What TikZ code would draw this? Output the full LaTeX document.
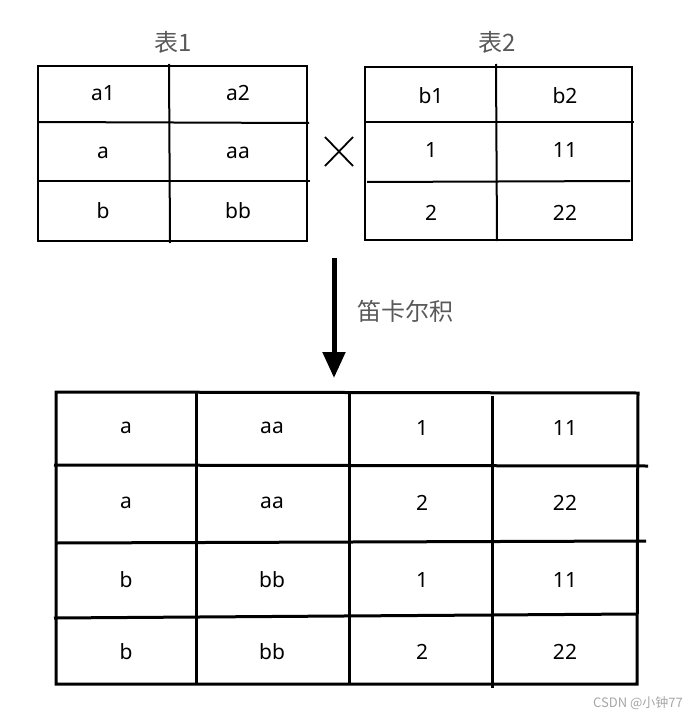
\documentclass[tikz,border=0pt]{standalone}
\usepackage{fontspec}
\setmainfont{Noto Sans}
\newfontfamily\cjk{Noto Sans CJK SC}
\usetikzlibrary{arrows.meta,positioning}

\begin{document}
\begin{tikzpicture}[x=0.5pt, y=-0.5pt,
    every node/.style={font=\fontsize{10.5}{12}\selectfont},
    grid/.style={line width=1pt, black},
    biggrid/.style={line width=1.5pt, black},
    title/.style={font=\cjk\fontsize{12}{14}\selectfont, text=black!65}]
  \useasboundingbox (0,0) rectangle (690,717);

  %% Table 1
  \draw[grid] (38,66) rectangle (307,241);
  \draw[grid] (169,64) -- (170,243);
  \draw[grid] (38,122) -- (309,123);
  \draw[grid] (38,181) -- (310,181);
  \node[title] (title1) at (173,42) {表1};
  \foreach \row/\y/\ta/\tb in {1/93/a1/a2, 2/153/a/aa, 3/211/b/bb} {
    \node (t1-\row-1) at (103,\y) {\ta};
    \node (t1-\row-2) at (238,\y) {\tb};
  }

  %% Cross sign
  \draw[line width=0.9pt] (325,137) -- (353,166);
  \draw[line width=0.9pt] (353,137) -- (325,166);

  %% Table 2
  \draw[grid] (365,67) rectangle (632,240);
  \draw[grid] (496,64) -- (497,241);
  \draw[grid] (365,122) -- (634,122);
  \draw[grid] (367,182) -- (630,181);
  \node[title] (title2) at (497,42) {表2};
  \foreach \row/\y/\ta/\tb in {1/96/b1/b2, 2/150/1/11, 3/213/2/22} {
    \node (t2-\row-1) at (431,\y) {\ta};
    \node (t2-\row-2) at (565,\y) {\tb};
  }

  %% Arrow
  \coordinate (top) at (334,258);
  \coordinate (bot) at (334,378);
  \draw[line width=2.5pt, -{Triangle[length=13pt,width=11pt]}] (top) -- (bot);
  \node[title] (prod) at (405,311) {笛卡尔积};

  %% Result table
  \draw[biggrid] (56,392) -- (638,393) -- (637,684) -- (56,684) -- cycle;
  \draw[biggrid] (196,391) -- (196,685);
  \draw[biggrid] (349,393) -- (349,684);
  \draw[biggrid] (492,396) -- (492,688);
  \draw[biggrid] (54,465) -- (648,466);
  \draw[biggrid] (56,543) -- (646,541);
  \draw[biggrid] (54,618) -- (343,616) -- (637,614);
  \foreach \row/\y/\ta/\tb/\tc/\td in {1/428/a/aa/1/11, 2/503/a/aa/2/22,
                                      3/580/b/bb/1/11, 4/652/b/bb/2/22} {
    \node (r-\row-1) at (126,\y) {\ta};
    \node (r-\row-2) at (272,\y) {\tb};
    \node (r-\row-3) at (422,\y) {\tc};
    \node (r-\row-4) at (565,\y) {\td};
  }

  %% Watermark
  \node[font=\cjk\fontsize{6.5}{8}\selectfont, text=black!35] (mark) at (638,703) {CSDN @小钟77};
\end{tikzpicture}
\end{document}
